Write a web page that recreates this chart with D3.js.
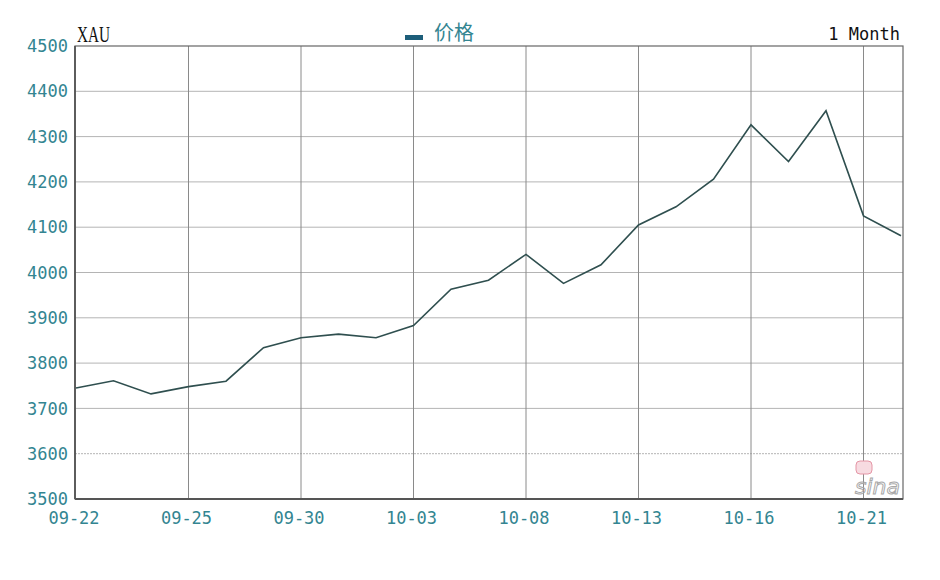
<!DOCTYPE html>
<html><head><meta charset="utf-8">
<script src="https://cdn.jsdelivr.net/npm/d3@7"></script>
<style>body{margin:0;background:#fff}svg{display:block}</style>
</head><body><svg id="c" width="940" height="580"></svg>
<script>
const dates = ["09-22","09-23","09-24","09-25","09-26","09-29","09-30","10-01","10-02","10-03","10-06","10-07","10-08","10-09","10-10","10-13","10-14","10-15","10-16","10-17","10-20","10-21","10-22"];
const prices = [3745,3761,3732,3748,3760,3834,3856,3864,3856,3883,3963,3983,4040,3976,4017,4105,4145,4206,4326,4245,4357,4125,4081];
const xTickLabels = ["09-22","09-25","09-30","10-03","10-08","10-13","10-16","10-21"];
const yTicks = [3500,3600,3700,3800,3900,4000,4100,4200,4300,4400,4500];
const symbol = "XAU", seriesName = "价格", period = "1 Month";

const svg = d3.select("#c");
const L = 75, R = 903, T = 46, B = 499;
const x = d3.scalePoint().domain(dates).range([76, 901]);
const y = d3.scaleLinear().domain([3500, 4500]).range([B, T]);
const teal = "#338591";

// horizontal grid
svg.append("g").selectAll("line").data(yTicks.slice(1, -1)).join("line")
  .attr("x1", L).attr("x2", R).attr("y1", d => y(d)).attr("y2", d => y(d))
  .attr("stroke", "#b4b4b4").attr("stroke-width", 1)
  .attr("stroke-dasharray", d => (d === 3600 ? "2,1" : null));
// vertical grid
svg.append("g").selectAll("line").data(xTickLabels.slice(1)).join("line")
  .attr("x1", d => x(d)).attr("x2", d => x(d)).attr("y1", T).attr("y2", B)
  .attr("stroke", "#8a8a8a").attr("stroke-width", 1);

// frame
svg.append("rect").attr("x", L).attr("y", T).attr("width", R - L).attr("height", B - T)
  .attr("fill", "none").attr("stroke", "#666").attr("stroke-width", 1.2);
svg.append("line").attr("x1", L).attr("x2", L).attr("y1", T).attr("y2", B).attr("stroke", "#555").attr("stroke-width", 1.8);
svg.append("line").attr("x1", L).attr("x2", R).attr("y1", B).attr("y2", B).attr("stroke", "#555").attr("stroke-width", 1.8);

// y labels
svg.append("g").selectAll("text").data(yTicks).join("text")
  .attr("x", 68).attr("y", d => y(d)).attr("dy", "0.36em").attr("text-anchor", "end")
  .attr("font-family", "DejaVu Sans Mono").attr("font-size", 17).attr("fill", teal)
  .text(d => d);
// x labels
svg.append("g").selectAll("text").data(xTickLabels).join("text")
  .attr("x", d => x(d) - 2).attr("y", 524).attr("text-anchor", "middle")
  .attr("font-family", "DejaVu Sans Mono").attr("font-size", 17).attr("fill", teal)
  .text(d => d);

// watermark
svg.append("text").attr("x", 900).attr("y", 494).attr("text-anchor", "end")
  .attr("font-family", "DejaVu Sans").attr("font-style", "italic").attr("font-size", 22)
  .attr("fill", "none").attr("stroke", "#a8a8a8").attr("stroke-width", 1).text("sina");
svg.append("rect").attr("x", 856).attr("y", 461).attr("width", 16).attr("height", 13).attr("rx", 4)
  .attr("fill", "#f7dbe1").attr("stroke", "#e596a6").attr("stroke-width", 1);

// line
const line = d3.line().x((d, i) => x(dates[i])).y(d => y(d));
svg.append("path").datum(prices).attr("d", line)
  .attr("fill", "none").attr("stroke", "#2f4f4f").attr("stroke-width", 1.6);

// titles
svg.append("text").attr("x", 77).attr("y", 42).attr("font-family", "Liberation Serif")
  .attr("font-size", 24).attr("fill", "#111").attr("textLength", 33).attr("lengthAdjust", "spacingAndGlyphs")
  .text(symbol);
svg.append("rect").attr("x", 405).attr("y", 35).attr("width", 18).attr("height", 5).attr("fill", "#1d5e7a");
svg.append("text").attr("x", 434).attr("y", 40).attr("font-family", "Noto Sans CJK SC")
  .attr("font-size", 20).attr("fill", teal).text(seriesName);
svg.append("text").attr("x", 900).attr("y", 40).attr("text-anchor", "end")
  .attr("font-family", "DejaVu Sans Mono").attr("font-size", 17).attr("fill", "#111").text(period);
</script></body></html>
